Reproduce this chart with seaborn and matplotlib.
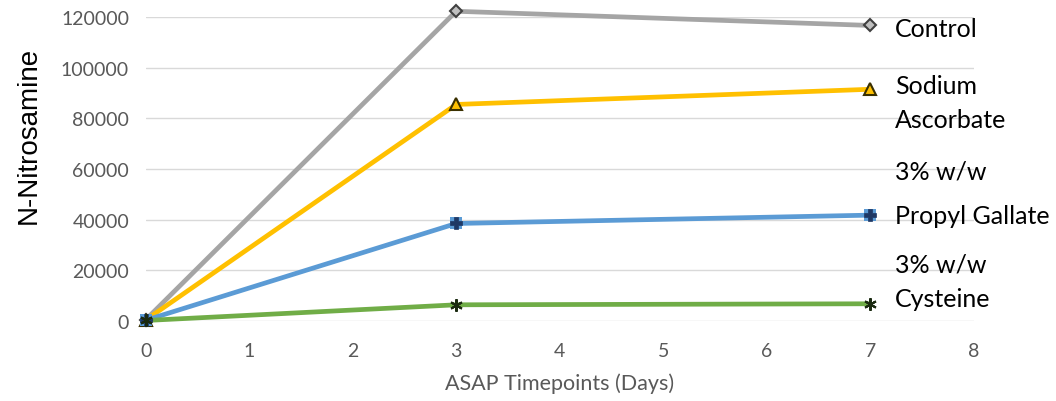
import matplotlib
matplotlib.use("Agg")
import matplotlib.pyplot as plt
import seaborn as sns
import pandas as pd

days = [0, 3, 7]
control = [500, 122300, 116700]
sodium_ascorbate = [400, 85500, 91500]
propyl_gallate = [300, 38500, 41800]
cysteine = [200, 6400, 6800]

series_names = ["Control", "Sodium Ascorbate", "Propyl Gallate", "Cysteine"]
label_lines = ["Control", "Sodium", "Ascorbate", "3% w/w", "Propyl Gallate", "3% w/w", "Cysteine"]
label_y = [115300, 92800, 79700, 59200, 41800, 22500, 8700]
xticks = [0, 1, 2, 3, 4, 5, 6, 7, 8]
yticks = [0, 20000, 40000, 60000, 80000, 100000, 120000]

colors = {"Control": "#A5A5A5", "Sodium Ascorbate": "#FFC000",
          "Propyl Gallate": "#5B9BD5", "Cysteine": "#70AD47"}

df = pd.DataFrame({
    "day": days * 4,
    "value": control + sodium_ascorbate + propyl_gallate + cysteine,
    "series": sum([[n] * len(days) for n in series_names], []),
})

sns.set_theme(style="white")
plt.rcParams['font.family'] = ['Lato', 'DejaVu Sans']

fig = plt.figure(figsize=(10.56, 4.02), dpi=100)
ax = fig.add_axes([0.138, 0.199, 0.784, 0.756])

sns.lineplot(data=df, x="day", y="value", hue="series", palette=colors,
             linewidth=3.4, legend=False, ax=ax, clip_on=False, zorder=3)

marker_styles = {
    "Control": [dict(marker="D", ms=6, mfc="#BFBFBF", mec="#404040", mew=1.5)],
    "Sodium Ascorbate": [dict(marker="^", ms=8, mfc="#FFC000", mec="#3a3000", mew=1.5)],
    "Propyl Gallate": [dict(marker="s", ms=9, mfc="#5B9BD5", mec="#5B9BD5", mew=0),
                       dict(marker="P", ms=8, mfc="#1F3864", mec="#1F3864", mew=0.5)],
    "Cysteine": [dict(marker=(6, 2, 0), ms=9, mfc="#1a2a10", mec="#1a2a10", mew=1.5)],
}
for name in series_names:
    sub = df[df.series == name]
    for st in marker_styles[name]:
        ax.plot(sub.day, sub.value, linestyle="none", clip_on=False, zorder=4, **st)

ax.set_xlim(0, 8)
ax.set_ylim(0, 120000)
ax.set_xticks(xticks)
ax.set_yticks(yticks)
ax.set_xticklabels([str(t) for t in xticks])
ax.set_yticklabels([str(t) for t in yticks])
ax.tick_params(axis="both", colors="#595959", labelsize=14, length=0)
ax.tick_params(axis="y", pad=12)
ax.tick_params(axis="x", pad=15)
ax.grid(axis="y", color="#D9D9D9", linewidth=1)
for s in ax.spines.values():
    s.set_visible(False)

ax.set_xlabel("ASAP Timepoints (Days)", fontsize=15.5, color="#595959", labelpad=10)
ax.set_ylabel("N-Nitrosamine", fontsize=20, color="black",
              family=["Liberation Sans", "DejaVu Sans"])
ax.yaxis.set_label_coords(-0.125, 0.615)

for txt, y in zip(label_lines, label_y):
    ax.text(7.24, y, txt, fontsize=18, color="black", va="center", ha="left")

fig.savefig("out.png", dpi=100)
